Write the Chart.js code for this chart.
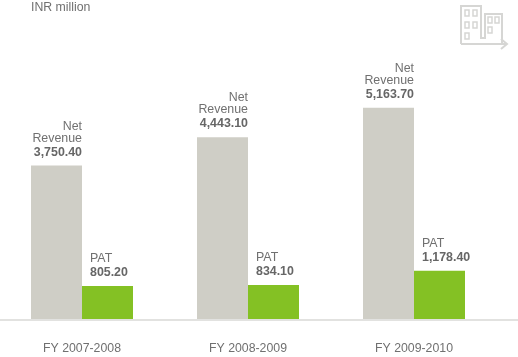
<!DOCTYPE html>
<html>
<head>
<meta charset="utf-8">
<style>
html, body { margin: 0; padding: 0; background: #fff; overflow: hidden; }
#wrap { position: absolute; left: -1px; top: 0; width: 519px; height: 357px; }
</style>
<script src="https://cdn.jsdelivr.net/npm/chart.js@4"></script>
</head>
<body>
<div id="wrap"><canvas id="revenue-canvas"></canvas></div>
<script>
var categories = ['FY 2007-2008', 'FY 2008-2009', 'FY 2009-2010'];
var netRevenue = [3750.40, 4443.10, 5163.70];
var pat = [805.20, 834.10, 1178.40];
var revenueLabels = ['3,750.40', '4,443.10', '5,163.70'];
var patLabels = ['805.20', '834.10', '1,178.40'];
var unitLabel = 'INR million';

var textColor = '#707070';
var boldColor = '#666666';
var fontFamily = '"Liberation Sans", Arial, sans-serif';

// labels over the bars, baseline, unit text and the small icon
var annotations = {
    id: 'annotations',
    afterDatasetsDraw: function(chart) {
        var ctx = chart.ctx;
        var base = chart.scales.y.getPixelForValue(0);

        ctx.save();
        ctx.strokeStyle = '#e2e2e0';
        ctx.lineWidth = 2;
        ctx.beginPath();
        ctx.moveTo(0, base + 1);
        ctx.lineTo(chart.width, base + 1);
        ctx.stroke();

        ctx.textBaseline = 'alphabetic';
        ctx.fillStyle = textColor;
        ctx.font = '12.3px ' + fontFamily;
        ctx.textAlign = 'left';
        ctx.fillText(unitLabel, 32, 11);

        chart.getDatasetMeta(0).data.forEach(function(bar, i) {
            var right = bar.x + bar.width / 2;
            ctx.textAlign = 'right';
            ctx.fillStyle = textColor;
            ctx.font = '12.4px ' + fontFamily;
            ctx.fillText('Net', right, bar.y - 36);
            ctx.fillText('Revenue', right, bar.y - 24);
            ctx.fillStyle = boldColor;
            ctx.font = 'bold 12.4px ' + fontFamily;
            ctx.fillText(revenueLabels[i], right, bar.y - 10);
        });

        chart.getDatasetMeta(1).data.forEach(function(bar, i) {
            var left = bar.x - bar.width / 2 + 8;
            ctx.textAlign = 'left';
            ctx.fillStyle = textColor;
            ctx.font = '12.4px ' + fontFamily;
            ctx.fillText('PAT', left, bar.y - 24);
            ctx.fillStyle = boldColor;
            ctx.font = 'bold 12.4px ' + fontFamily;
            ctx.fillText(patLabels[i], left, bar.y - 10);
        });

        drawIcon(ctx);
        ctx.restore();
    }
};

function drawIcon(ctx) {
    ctx.strokeStyle = '#d6d6d4';
    ctx.lineWidth = 2;
    ctx.beginPath();
    ctx.moveTo(462, 44);
    ctx.lineTo(462, 6);
    ctx.lineTo(482, 6);
    ctx.lineTo(482, 38);
    ctx.lineTo(486, 38);
    ctx.lineTo(486, 14);
    ctx.lineTo(503, 14);
    ctx.lineTo(503, 44);
    ctx.moveTo(462, 44);
    ctx.lineTo(508, 44);
    ctx.moveTo(502, 39);
    ctx.lineTo(508, 44);
    ctx.lineTo(502, 49);
    ctx.stroke();

    ctx.lineWidth = 1.5;
    [[466, 10], [474, 10], [466, 22], [474, 22], [466, 33], [489, 17], [496, 17], [489, 27]].forEach(function(w) {
        ctx.strokeRect(w[0], w[1], 4, 6);
    });
}

var revenueChart = new Chart(document.getElementById('revenue-canvas').getContext('2d'), {
    type: 'bar',
    data: {
        labels: categories,
        datasets: [
            { label: 'Net Revenue', data: netRevenue, backgroundColor: '#cfcec6' },
            { label: 'PAT', data: pat, backgroundColor: '#84c124' }
        ]
    },
    options: {
        responsive: true,
        maintainAspectRatio: false,
        animation: false,
        barPercentage: 1,
        categoryPercentage: 0.6145,
        layout: { padding: { left: 0, right: 21, top: 0, bottom: 0 } },
        scales: {
            x: {
                grid: { display: false },
                border: { display: false },
                afterFit: function(scale) { scale.height = 38; },
                ticks: {
                    padding: 14,
                    color: textColor,
                    font: { family: fontFamily, size: 12.3 },
                    maxRotation: 0
                }
            },
            y: {
                display: false,
                min: 0,
                max: 7800
            }
        },
        plugins: {
            legend: { display: false },
            tooltip: { enabled: false }
        }
    },
    plugins: [annotations]
});
</script>
</body>
</html>
